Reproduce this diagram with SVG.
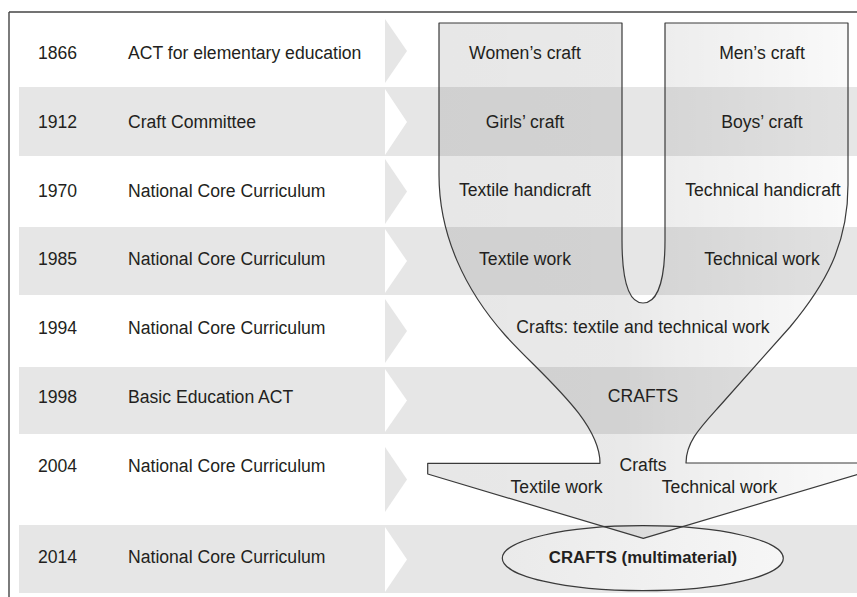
<svg xmlns="http://www.w3.org/2000/svg" width="857" height="597" viewBox="0 0 857 597">
<defs>
  <linearGradient id="fg" gradientUnits="userSpaceOnUse" x1="428" y1="0" x2="859" y2="0">
    <stop offset="0" stop-color="#000" stop-opacity="0.095"/>
    <stop offset="0.45" stop-color="#000" stop-opacity="0.088"/>
    <stop offset="0.56" stop-color="#000" stop-opacity="0.07"/>
    <stop offset="1" stop-color="#000" stop-opacity="0.02"/>
  </linearGradient>
  <linearGradient id="eg" gradientUnits="userSpaceOnUse" x1="502" y1="0" x2="783" y2="0">
    <stop offset="0" stop-color="#eaeaea"/>
    <stop offset="1" stop-color="#f6f6f6"/>
  </linearGradient>
</defs>
<style>
  text { font-family: "Liberation Sans", Arial, sans-serif; font-size: 17.6px; fill: #231f20; }
  .mid { text-anchor: middle; }
  .bold { font-weight: bold; font-size: 16.8px; }
  .band { fill: #e6e6e6; }
  .chev-g { fill: #e6e6e6; }
  .chev-w { fill: #ffffff; }
  .outline { stroke: #3a3a3a; stroke-width: 1.2; stroke-linejoin: round; }
</style>
<rect x="0" y="0" width="857" height="597" fill="#fff"/>
<g id="bands">
  <rect class="band" x="19" y="87" width="838" height="69"/>
  <rect class="band" x="19" y="227" width="838" height="68"/>
  <rect class="band" x="19" y="367" width="838" height="67"/>
  <rect class="band" x="19" y="525" width="838" height="68"/>
</g>
<g id="frame" stroke="#444" stroke-width="1.4" fill="none">
  <line x1="9" y1="12" x2="857" y2="12"/>
  <line x1="9" y1="12" x2="9" y2="597"/>
</g>
<g id="connectors">
  <polygon class="chev-g" points="385,19 407,51 385,83"/>
  <polygon class="chev-w" points="385,89 407,122 385,155"/>
  <polygon class="chev-g" points="385,159 407,191.5 385,224"/>
  <polygon class="chev-w" points="385,229 407,261 385,293"/>
  <polygon class="chev-g" points="385,299 407,331 385,363"/>
  <polygon class="chev-w" points="385,369 407,400.5 385,432"/>
  <polygon class="chev-g" points="385,447 407,479.5 385,512"/>
  <polygon class="chev-w" points="385,527 407,559.5 385,592"/>
</g>
<g id="row-1866"><text x="38" y="58.5">1866</text><text x="128" y="58.5">ACT for elementary education</text></g>
<g id="row-1912"><text x="38" y="127.5">1912</text><text x="128" y="127.5">Craft Committee</text></g>
<g id="row-1970"><text x="38" y="196.5">1970</text><text x="128" y="196.5">National Core Curriculum</text></g>
<g id="row-1985"><text x="38" y="265">1985</text><text x="128" y="265">National Core Curriculum</text></g>
<g id="row-1994"><text x="38" y="334">1994</text><text x="128" y="334">National Core Curriculum</text></g>
<g id="row-1998"><text x="38" y="402.5">1998</text><text x="128" y="402.5">Basic Education ACT</text></g>
<g id="row-2004"><text x="38" y="471.5">2004</text><text x="128" y="471.5">National Core Curriculum</text></g>
<g id="row-2014"><text x="38" y="563">2014</text><text x="128" y="563">National Core Curriculum</text></g>
<g id="crafts-2014">
  <ellipse cx="642.8" cy="558.2" rx="140.5" ry="32.5" fill="url(#eg)" class="outline"/>
</g>
<g id="funnel">
  <path class="outline" fill="url(#fg)" d="M439,23 L622,23 L622,240 C622,290 632,303 643,303 C654,303 665,290 665,240 L665,23 L848,23 L848,185 C848,245 825,285 790,327 L725,400 C703,425 686,440 686,463 L859,463 L859,474 L643.3,538.4 L427.7,474 L427.7,463.3 L600,463.3 C600,420 540,374 505,335 C465,290 439,235 439,175 Z"/>
</g>
<g id="women-craft"><text class="mid" x="525" y="58.5">Women’s craft</text></g>
<g id="men-craft"><text class="mid" x="762" y="58.5">Men’s craft</text></g>
<g id="girls-craft"><text class="mid" x="525" y="127.5">Girls’ craft</text></g>
<g id="boys-craft"><text class="mid" x="762" y="127.5">Boys’ craft</text></g>
<g id="textile-handicraft"><text class="mid" x="525" y="196">Textile handicraft</text></g>
<g id="technical-handicraft"><text class="mid" x="763" y="196">Technical handicraft</text></g>
<g id="textile-work-1985"><text class="mid" x="525" y="264.5">Textile work</text></g>
<g id="technical-work-1985"><text class="mid" x="762" y="264.5">Technical work</text></g>
<g id="crafts-1994"><text class="mid" x="643" y="333.3">Crafts: textile and technical work</text></g>
<g id="crafts-1998"><text class="mid" x="643" y="402">CRAFTS</text></g>
<g id="crafts-2004">
  <text class="mid" x="643" y="470.7">Crafts</text>
  <text class="mid" x="556.5" y="493.3">Textile work</text>
  <text class="mid" x="719.5" y="493.3">Technical work</text>
</g>
<g id="crafts-2014-label"><text class="mid bold" x="643" y="562.5">CRAFTS (multimaterial)</text></g>
</svg>
